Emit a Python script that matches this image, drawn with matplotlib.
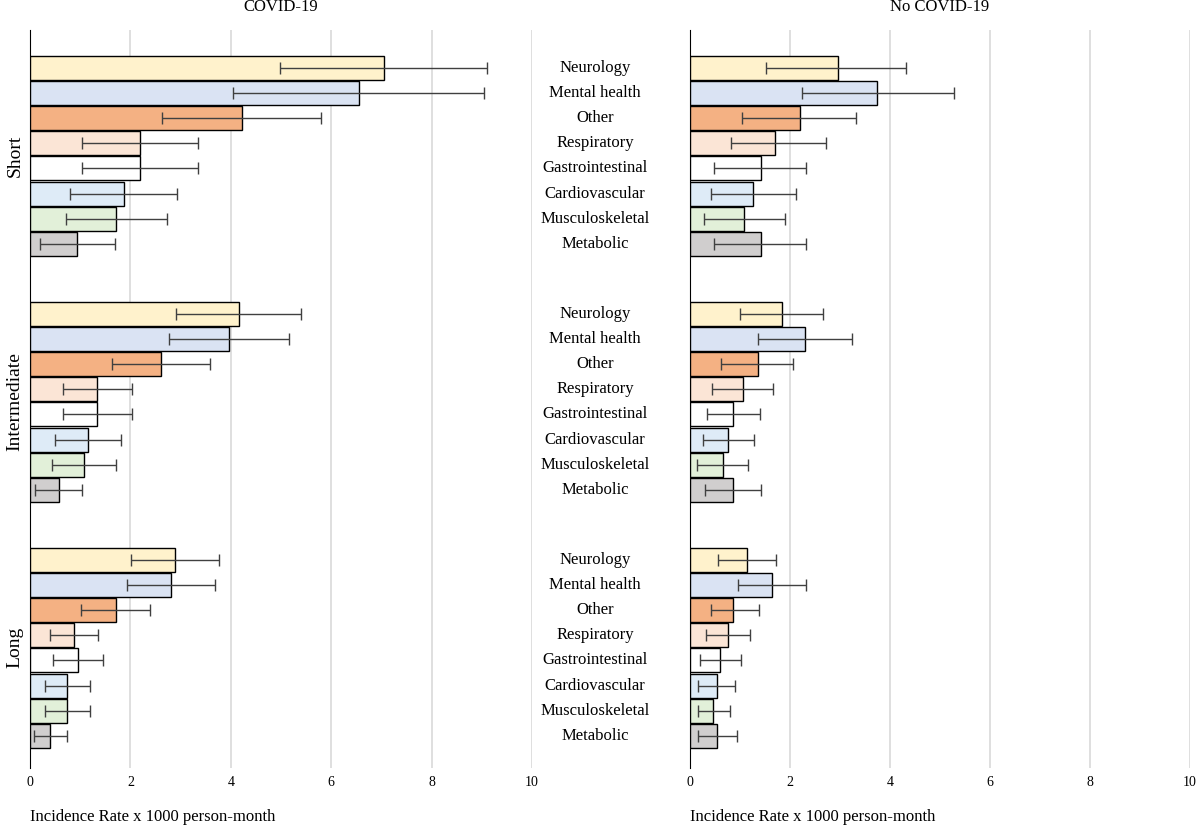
import numpy as np
import matplotlib
matplotlib.use("Agg")
import matplotlib.pyplot as plt

plt.rcParams["font.family"] = ["Liberation Serif", "DejaVu Serif"]

categories = ["Neurology", "Mental health", "Other", "Respiratory", "Gastrointestinal",
              "Cardiovascular", "Musculoskeletal", "Metabolic"]
periods = ["Short", "Intermediate", "Long"]
colors = ["#FFF2CC", "#DAE3F3", "#F4B183", "#FBE5D6", "#FFFFFF", "#DEEBF7", "#E2F0D9", "#D0CECE"]

# COVID-19: rate, lower, upper
covid_rate = [
    [7.05, 6.55, 4.22, 2.19, 2.19, 1.87, 1.71, 0.94],
    [4.16, 3.96, 2.61, 1.33, 1.33, 1.16, 1.08, 0.58],
    [2.89, 2.81, 1.71, 0.88, 0.96, 0.74, 0.74, 0.40],
]
covid_lo = [
    [4.98, 4.05, 2.63, 1.04, 1.04, 0.80, 0.72, 0.20],
    [2.90, 2.77, 1.63, 0.66, 0.66, 0.50, 0.44, 0.10],
    [2.01, 1.93, 1.02, 0.40, 0.46, 0.30, 0.30, 0.08],
]
covid_hi = [
    [9.10, 9.05, 5.80, 3.35, 3.35, 2.93, 2.73, 1.69],
    [5.40, 5.16, 3.59, 2.03, 2.03, 1.81, 1.71, 1.04],
    [3.76, 3.69, 2.39, 1.35, 1.45, 1.19, 1.19, 0.73],
]
# No COVID-19
nocovid_rate = [
    [2.96, 3.74, 2.20, 1.70, 1.42, 1.25, 1.08, 1.42],
    [1.84, 2.30, 1.36, 1.06, 0.86, 0.76, 0.66, 0.86],
    [1.14, 1.64, 0.86, 0.76, 0.60, 0.54, 0.46, 0.54],
]
nocovid_lo = [
    [1.52, 2.24, 1.04, 0.82, 0.48, 0.42, 0.28, 0.48],
    [1.00, 1.36, 0.62, 0.44, 0.34, 0.26, 0.14, 0.30],
    [0.56, 0.96, 0.42, 0.32, 0.20, 0.16, 0.16, 0.16],
]
nocovid_hi = [
    [4.32, 5.28, 3.32, 2.72, 2.32, 2.12, 1.90, 2.32],
    [2.66, 3.24, 2.06, 1.66, 1.40, 1.28, 1.16, 1.42],
    [1.72, 2.32, 1.38, 1.20, 1.02, 0.90, 0.80, 0.94],
]

fig = plt.figure(figsize=(12, 8.26), dpi=100)
W, H = 1200, 826
ax_l = fig.add_axes([30 / W, 1 - 768 / H, 502 / W, 738 / H])
ax_r = fig.add_axes([690 / W, 1 - 768 / H, 500 / W, 738 / H])

pitch = 25.2
group_pitch = 246
y0 = 55 - 30  # first bar top offset within axes (pixels)


def ypos(g, i):
    return y0 + g * group_pitch + i * pitch + pitch / 2


for ax, rate, lo, hi in [(ax_l, covid_rate, covid_lo, covid_hi),
                         (ax_r, nocovid_rate, nocovid_lo, nocovid_hi)]:
    for g in range(3):
        ys = [ypos(g, i) for i in range(8)]
        r = np.array(rate[g])
        err = [r - np.array(lo[g]), np.array(hi[g]) - r]
        ax.barh(ys, r, height=24, color=colors, edgecolor="black", linewidth=1, zorder=3)
        ax.errorbar(r, ys, xerr=err, fmt="none", ecolor="#404040", elinewidth=1,
                    capsize=4, capthick=1, zorder=4)
    ax.set_xlim(0, 10)
    ax.set_ylim(738, 0)
    ax.set_xticks(range(0, 11, 2))
    ax.set_yticks([])
    ax.grid(axis="x", color="#D9D9D9", linewidth=1.2, zorder=0)
    for s in ["top", "right", "bottom"]:
        ax.spines[s].set_visible(False)
    ax.spines["left"].set_color("black")
    ax.tick_params(axis="x", length=0, labelsize=10, pad=6)
    ax.set_xlabel("Incidence Rate x 1000 person-month", fontsize=12, loc="left", labelpad=14)

ax_l.set_title("COVID-19", fontsize=12, pad=14)
ax_r.set_title("No COVID-19", fontsize=12, pad=14)

for g in range(3):
    for i, c in enumerate(categories):
        yp = 30 + ypos(g, i)
        fig.text(595 / W, 1 - yp / H, c, ha="center", va="center", fontsize=12)
    yc = 30 + y0 + g * group_pitch + 4 * pitch
    fig.text(15 / W, 1 - yc / H, periods[g], rotation=90, ha="center", va="center", fontsize=14)

fig.savefig("out.png", dpi=100)
